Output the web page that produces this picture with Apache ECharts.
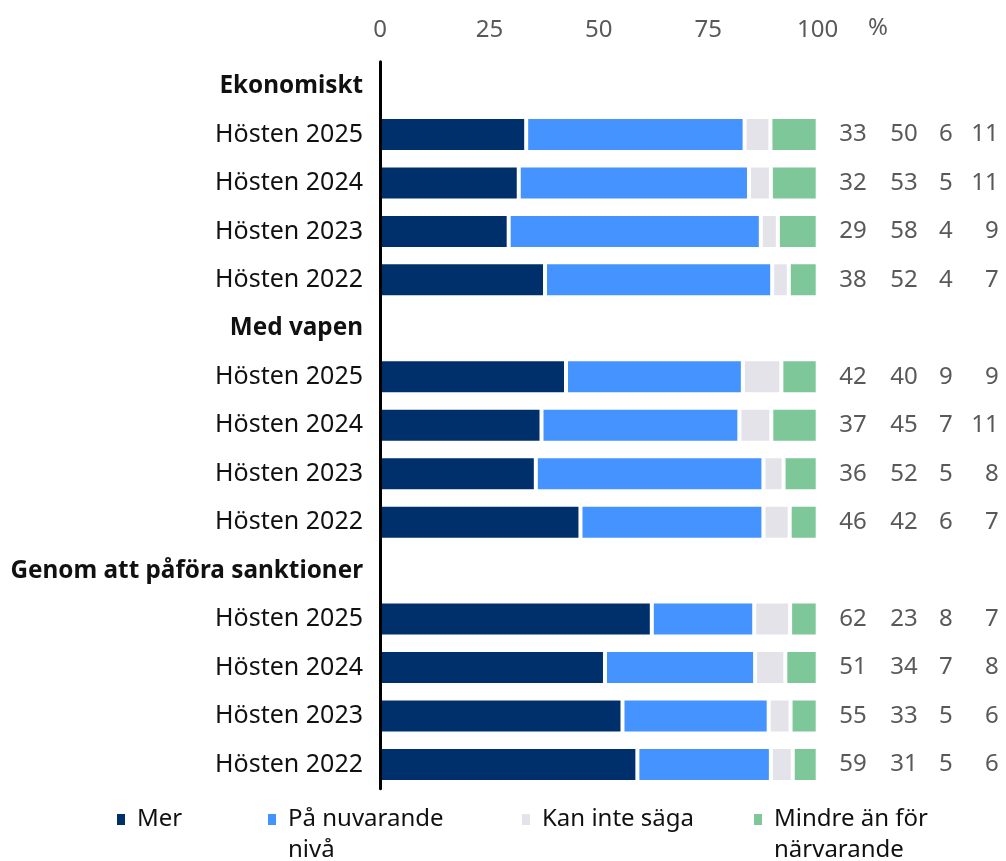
<!DOCTYPE html>
<html>
<head>
<meta charset="utf-8">
<script src="https://cdn.jsdelivr.net/npm/echarts@6/dist/echarts.min.js"></script>
<style>
html,body{margin:0;padding:0;background:#fff;}
#chart{width:1006px;height:861px;}
</style>
</head>
<body>
<div id="chart"></div>
<script>
// ---- data ----
const groups = ['Ekonomiskt', 'Med vapen', 'Genom att påföra sanktioner'];
const periods = ['Hösten 2025', 'Hösten 2024', 'Hösten 2023', 'Hösten 2022'];
const seriesNames = ['Mer', 'På nuvarande nivå', 'Kan inte säga', 'Mindre än för närvarande'];
const xTicks = [0, 25, 50, 75, 100];
const unitLabel = '%';

// bar lengths (per group, per period, top to bottom)
const merVals    = [[33.4, 31.7, 29.4, 37.7], [42.5, 36.9, 35.6, 45.8], [62.1, 51.4, 55.4, 58.8]];
const paVals     = [[49.9, 52.6, 57.6, 51.9], [40.4, 45.2, 52.0, 41.8], [23.4, 34.3, 33.4, 30.5]];
const kanVals    = [[5.9, 5.0, 3.9, 3.8], [8.8, 7.3, 4.6, 6.0], [8.2, 6.9, 5.0, 5.0]];
const mindreVals = [[10.8, 10.7, 9.1, 6.6], [8.3, 10.6, 7.8, 6.4], [6.3, 7.4, 6.2, 5.7]];

// printed values at the right
const merLabels    = [[33, 32, 29, 38], [42, 37, 36, 46], [62, 51, 55, 59]];
const paLabels     = [[50, 53, 58, 52], [40, 45, 52, 42], [23, 34, 33, 31]];
const kanLabels    = [[6, 5, 4, 4], [9, 7, 5, 6], [8, 7, 5, 5]];
const mindreLabels = [[11, 11, 9, 7], [9, 11, 8, 7], [7, 8, 6, 6]];

// ---- build rows ----
const rowLabels = [];
const isHeader = [];
const rowRef = [];
groups.forEach((g, gi) => {
  rowLabels.push(g); isHeader.push(true); rowRef.push(null);
  periods.forEach((p, pi) => { rowLabels.push(p); isHeader.push(false); rowRef.push([gi, pi]); });
});
function col(arr) { return rowRef.map(r => r ? arr[r[0]][r[1]] : '-'); }

const colors = ['#00306B', '#4493FF', '#E5E3EA', '#7DC799'];
const FONT = 'Noto Sans';

const valueSets = [merVals, paVals, kanVals, mindreVals];
const series = seriesNames.map((name, si) => {
  const s = {
    name: name,
    type: 'bar',
    stack: 'total',
    barWidth: 35,
    data: col(valueSets[si]),
    itemStyle: { color: colors[si], borderColor: '#ffffff', borderWidth: 2 },
    emphasis: { disabled: true },
    animation: false
  };
  if (si === 3) {
    const tok = { fontFamily: FONT, fontSize: 24, color: '#595959', align: 'right' };
    s.label = {
      show: true,
      position: 'right',
      distance: 0,
      fontFamily: FONT,
      fontSize: 24,
      color: '#595959',
      formatter: function (p) {
        const r = rowRef[p.dataIndex];
        if (!r) return '';
        return '{a|' + merLabels[r[0]][r[1]] + '}{b|' + paLabels[r[0]][r[1]] + '}{c|' +
          kanLabels[r[0]][r[1]] + '}{d|' + mindreLabels[r[0]][r[1]] + '}';
      },
      rich: {
        a: Object.assign({ width: 49 }, tok),
        b: Object.assign({ width: 51 }, tok),
        c: Object.assign({ width: 35 }, tok),
        d: Object.assign({ width: 46 }, tok)
      }
    };
  }
  return s;
});

const legendLefts = [115, 266, 520, 752];
const legendText = {
  'Mer': 'Mer',
  'På nuvarande nivå': '\nPå nuvarande\nnivå',
  'Kan inte säga': 'Kan inte säga',
  'Mindre än för närvarande': '\nMindre än för\nnärvarande'
};
const legends = seriesNames.map((n, i) => {
  const multi = legendText[n].indexOf('\n') >= 0;
  return {
    data: [n],
    left: legendLefts[i],
    top: multi ? 773 : 804,
    padding: 0,
    icon: 'rect',
    itemWidth: 10,
    itemHeight: 13,
    selectedMode: false,
    formatter: function (name) { return legendText[name]; },
    textStyle: {
      fontFamily: FONT,
      fontSize: 24,
      color: '#111111',
      lineHeight: 31,
      padding: [0, 0, 0, 6]
    }
  };
});

const chart = echarts.init(document.getElementById('chart'), null, { renderer: 'canvas' });
chart.setOption({
  animation: false,
  backgroundColor: '#ffffff',
  textStyle: { fontFamily: FONT },
  grid: { left: 380, right: 188.3, top: 61.8, bottom: 72.3, containLabel: false },
  xAxis: {
    type: 'value',
    position: 'top',
    min: xTicks[0],
    max: xTicks[xTicks.length - 1],
    interval: xTicks[1] - xTicks[0],
    axisLine: { show: false },
    axisTick: { show: false },
    splitLine: { show: false },
    axisLabel: { margin: 20, fontFamily: FONT, fontSize: 24, color: '#595959' }
  },
  yAxis: {
    type: 'category',
    inverse: true,
    data: rowLabels,
    z: 10,
    axisLine: { show: true, lineStyle: { color: '#000000', width: 3 } },
    axisTick: { show: false },
    splitLine: { show: false },
    axisLabel: {
      margin: 17,
      interval: 0,
      fontFamily: FONT,
      fontSize: 25,
      color: '#111111',
      formatter: function (v, i) { return isHeader[i] ? '{h|' + v + '}' : '{n|' + v + '}'; },
      rich: {
        h: { fontFamily: FONT, fontSize: 24.3, fontWeight: 'bold', color: '#111111' },
        n: { fontFamily: FONT, fontSize: 25, color: '#111111' }
      }
    }
  },
  legend: legends,
  graphic: [{
    type: 'text',
    left: 868,
    top: 16,
    style: { text: unitLabel, fontFamily: FONT, fontSize: 24, fill: '#595959' }
  }],
  series: series
});
</script>
</body>
</html>
